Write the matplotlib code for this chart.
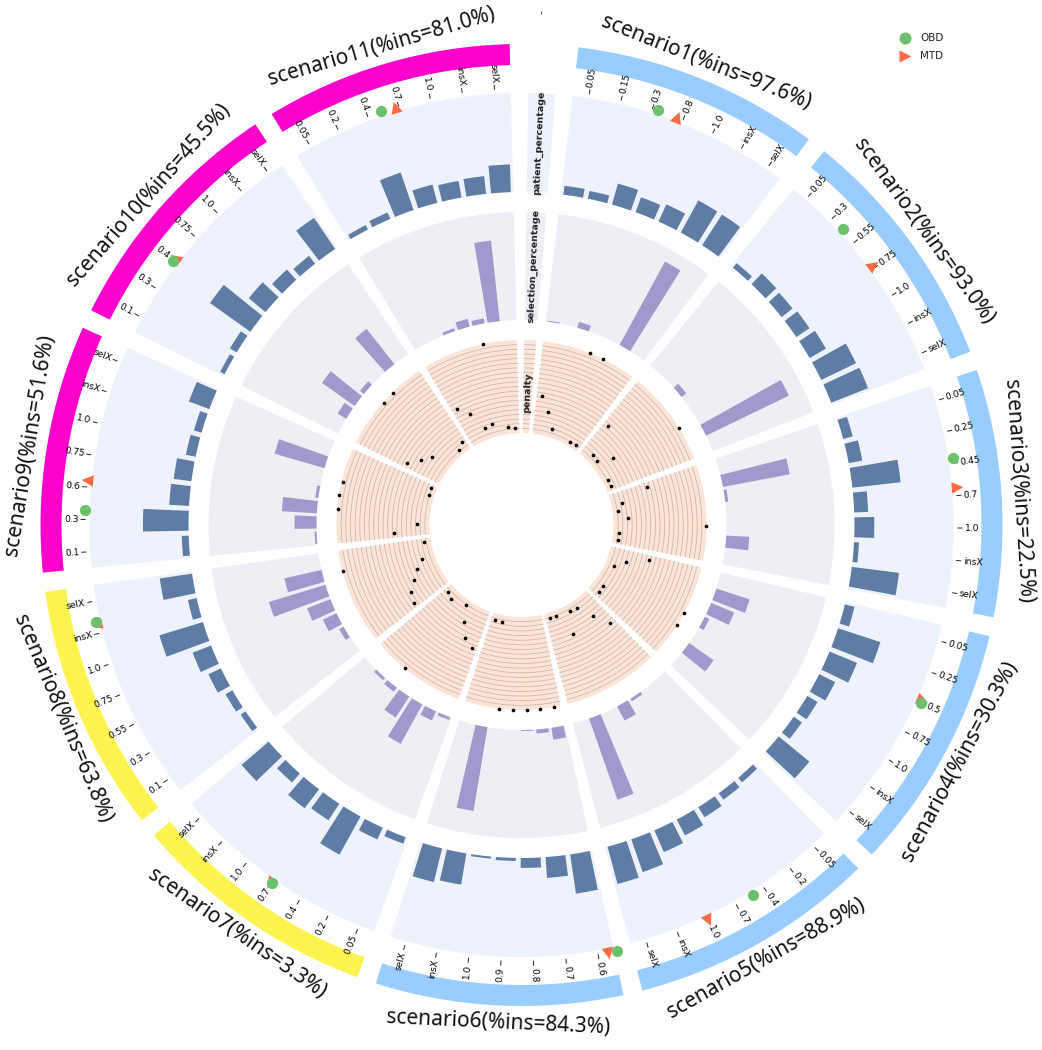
import numpy as np
import matplotlib
matplotlib.use("Agg")
import matplotlib.pyplot as plt
from matplotlib.markers import MarkerStyle
from matplotlib.transforms import Affine2D

# ---------------- data ----------------
scenario_names = [f"scenario{i}" for i in range(1, 12)]
ins_pct = [97.6, 93.0, 22.5, 30.3, 88.9, 84.3, 3.3, 63.8, 51.6, 45.5, 81.0]
ring_colors = ["#99CCFF"] * 6 + ["#FFF44F"] * 2 + ["#FF00CC"] * 3

tick_labels = [
    ["0.05", "0.15", "0.3", "0.8", "1.0", "insX", "selX"],
    ["0.05", "0.3", "0.55", "0.75", "1.0", "insX", "selX"],
    ["0.05", "0.25", "0.45", "0.7", "1.0", "insX", "selX"],
    ["0.05", "0.25", "0.5", "0.75", "1.0", "insX", "selX"],
    ["0.05", "0.2", "0.4", "0.7", "1.0", "insX", "selX"],
    ["0.6", "0.7", "0.8", "0.9", "1.0", "insX", "selX"],
    ["0.05", "0.2", "0.4", "0.7", "1.0", "insX", "selX"],
    ["0.1", "0.3", "0.55", "0.75", "1.0", "insX", "selX"],
    ["0.1", "0.3", "0.6", "0.75", "1.0", "insX", "selX"],
    ["0.1", "0.3", "0.4", "0.75", "1.0", "insX", "selX"],
    ["0.05", "0.2", "0.4", "0.7", "1.0", "insX", "selX"],
]

patient_pct = [
    [9, 8, 22, 16, 19, 37, 37],
    [6, 15, 14, 16, 19, 39, 40],
    [10, 14, 49, 14, 20, 5, 48],
    [10, 45, 30, 18, 12, 10, 40],
    [6, 8, 12, 18, 24, 35, 39],
    [40, 21, 10, 3, 2, 32, 35],
    [7, 13, 44, 20, 24, 12, 36],
    [6, 8, 14, 20, 46, 9, 33],
    [7, 46, 20, 18, 10, 8, 22],
    [5, 8, 50, 22, 14, 10, 38],
    [5, 7, 40, 19, 17, 18, 28],
]

selection_pct = [
    [1, 0, 6, 0, 0, 95, 0],
    [0, 0, 6, 0, 0, 92, 0],
    [0, 68, 3, 0, 0, 23, 0],
    [0, 35, 25, 5, 0, 30, 0],
    [0, 0, 3, 16, 0, 86, 0],
    [12, 4, 1, 0, 0, 85, 0],
    [3, 10, 45, 25, 5, 3, 0],
    [0, 5, 15, 25, 59, 38, 0],
    [2, 22, 35, 3, 0, 52, 0],
    [0, 10, 40, 5, 0, 45, 0],
    [0, 0, 3, 8, 5, 81, 0],
]

penalty = [
    [0.42, 0.26, 0.09, 1.00, 1.00, 0.05, 0.05],
    [0.42, 0.09, 0.07, 0.23, 1.00, 0.06, 0.06],
    [0.42, 0.12, 0.06, 0.16, 1.00, 0.06, 0.06],
    [0.43, 0.20, 0.10, 1.00, 1.00, 0.11, 0.11],
    [0.43, 0.25, 0.09, 0.07, 0.31, 0.06, 0.06],
    [1.00, 1.00, 1.00, 1.00, 1.00, 0.07, 0.07],
    [0.44, 0.37, 0.22, 0.06, 0.99, 0.11, 0.08],
    [0.44, 0.40, 0.31, 0.23, 0.14, 0.99, 0.08],
    [0.38, 0.13, 0.99, 1.00, 0.99, 0.05, 0.06],
    [0.41, 0.30, 0.22, 0.99, 0.99, 0.06, 0.11],
    [0.44, 0.33, 0.12, 0.14, 1.00, 0.07, 0.06],
]

# positions (in tick-index units) of OBD / MTD markers
obd_pos = [2.17, 1.45, 1.85, 2.0, 2.4, -0.6, 3.0, 5.35, 1.3, 2.0, 2.45]
mtd_pos = [2.8, 2.9, 2.75, 1.9, 4.0, -0.3, 3.05, 5.3, 2.2, 2.1, 2.9]

# ---------------- style / geometry ----------------
W, H = 1042, 1050
CX, CY = 521.5, 525.0
R = 521.0

UNIT = 4.27      # degrees per x-unit
GAP = 2.3
LABEL_W = 3.6
LABEL_START = 0.9
SC_START = LABEL_START + LABEL_W + GAP
PERIOD = 7 * UNIT + GAP

PEN = (92, 185)
SEL = (205, 313)
PAT = (333, 432)
RING = (460, 481)

C_PAT_BG = "#EEF2FC"
C_SEL_BG = "#EFEEF5"
C_PEN_BG = "#FCE4D6"
C_PAT_BAR = "#5E7CA4"
C_SEL_BAR = "#9F9ACB"
C_PEN_LINE = "#C9B3AA"
C_OBD = "#6CC26C"
C_MTD = "#FF6A45"

rad = np.deg2rad

fig = plt.figure(figsize=(W / 100, H / 100), dpi=100)
ax = fig.add_axes([(CX - R) / W, (H - CY - R) / H, 2 * R / W, 2 * R / H],
                  projection="polar")
ax.set_theta_zero_location("N")
ax.set_theta_direction(-1)
ax.set_ylim(0, R)
ax.set_axis_off()


def sector_bg(start, width, r0, r1, color):
    ax.bar(rad(start + width / 2), r1 - r0, width=rad(width), bottom=r0,
           color=color, edgecolor="none", align="center", zorder=1)


def pen_lines(start, width):
    th = np.linspace(rad(start), rad(start + width), 60)
    for rr in np.linspace(PEN[0], PEN[1], 21)[1:-1]:
        ax.plot(th, np.full_like(th, rr), color=C_PEN_LINE, lw=0.55, zorder=2)


# label sector
sector_bg(LABEL_START, LABEL_W, *PAT, C_PAT_BG)
sector_bg(LABEL_START, LABEL_W, *SEL, C_SEL_BG)
sector_bg(LABEL_START, LABEL_W, *PEN, C_PEN_BG)
pen_lines(LABEL_START, LABEL_W)
lc = LABEL_START + LABEL_W / 2
for txt, rr in [("patient_percentage", sum(PAT) / 2),
                ("selection_percentage", sum(SEL) / 2),
                ("penalty", 133)]:
    ax.text(rad(lc), rr, txt, rotation=90 - lc, rotation_mode="anchor",
            ha="center", va="center", fontsize=6.8, fontweight="bold",
            color="#222222", zorder=6)
ax.text(rad(lc - 0.4), 513, "-", rotation=90 - lc, rotation_mode="anchor",
        ha="center", va="center", fontsize=8, color="#222222")

sw = 7 * UNIT
for k in range(11):
    s = SC_START + k * PERIOD
    sector_bg(s, sw, *PAT, C_PAT_BG)
    sector_bg(s, sw, *SEL, C_SEL_BG)
    sector_bg(s, sw, *PEN, C_PEN_BG)
    pen_lines(s, sw)
    # outer ring
    ax.bar(rad(s + sw / 2), RING[1] - RING[0], width=rad(sw), bottom=RING[0],
           color=ring_colors[k], edgecolor="none", align="center", zorder=1)

    thetas = np.array([s + UNIT * (i + 0.5) for i in range(7)])
    # patient bars
    pv = np.array(patient_pct[k]) * (PAT[1] - PAT[0]) / 100.0
    ax.bar(rad(thetas), pv, width=rad(UNIT * 0.8), bottom=PAT[0],
           color=C_PAT_BAR, edgecolor="none", zorder=3)
    # selection bars
    sv = np.array(selection_pct[k]) * (SEL[1] - SEL[0]) / 108.0
    ax.bar(rad(thetas), sv, width=rad(UNIT * 0.8), bottom=SEL[0],
           color=C_SEL_BAR, edgecolor="none", zorder=3)
    # penalty points
    pr = PEN[0] + np.array(penalty[k]) * (PEN[1] - PEN[0])
    ax.scatter(rad(thetas), pr, s=7, color="black", zorder=5, linewidths=0)

    # ticks
    for i, lab in enumerate(tick_labels[k]):
        th = thetas[i]
        ax.plot([rad(th)] * 2, [436.5, 440.5], color="#222222", lw=0.7, zorder=4)
        if (th % 360) < 180:
            rot, ha = 90 - th, "left"
        else:
            rot, ha = 270 - th, "right"
        ax.text(rad(th), 443, lab, rotation=rot, rotation_mode="anchor",
                ha=ha, va="center", fontsize=6.6, color="#000000", zorder=6)

    # markers
    tm = s + UNIT * (mtd_pos[k] + 0.5)
    ax.scatter([rad(tm)], [437], s=70, color=C_MTD, zorder=7, linewidths=0,
               marker=MarkerStyle(">", transform=Affine2D().rotate_deg(90 - tm)))
    to = s + UNIT * (obd_pos[k] + 0.5)
    ax.scatter([rad(to)], [437], s=65, color=C_OBD, zorder=8, linewidths=0,
               marker="o")

    # scenario label
    c = s + sw / 2
    cm = c % 360
    rot = 180 - c if 90 < cm < 270 else -c
    ax.text(rad(c), 498, f"{scenario_names[k]}(%ins={ins_pct[k]}%)",
            rotation=rot, rotation_mode="anchor", ha="center", va="center",
            fontsize=15, family="Noto Sans", fontweight="light",
            color="#111111", zorder=6)

# legend overlay
lax = fig.add_axes([0, 0, 1, 1])
lax.set_xlim(0, W)
lax.set_ylim(H, 0)
lax.set_axis_off()
lax.patch.set_alpha(0)
lax.scatter([905], [38], s=75, color=C_OBD, linewidths=0)
lax.scatter([905], [56], s=75, color=C_MTD, marker=">", linewidths=0)
lax.text(920, 38, "OBD", fontsize=7.5, va="center", ha="left", color="#222222")
lax.text(920, 56, "MTD", fontsize=7.5, va="center", ha="left", color="#222222")

fig.savefig("out.png", dpi=100)
